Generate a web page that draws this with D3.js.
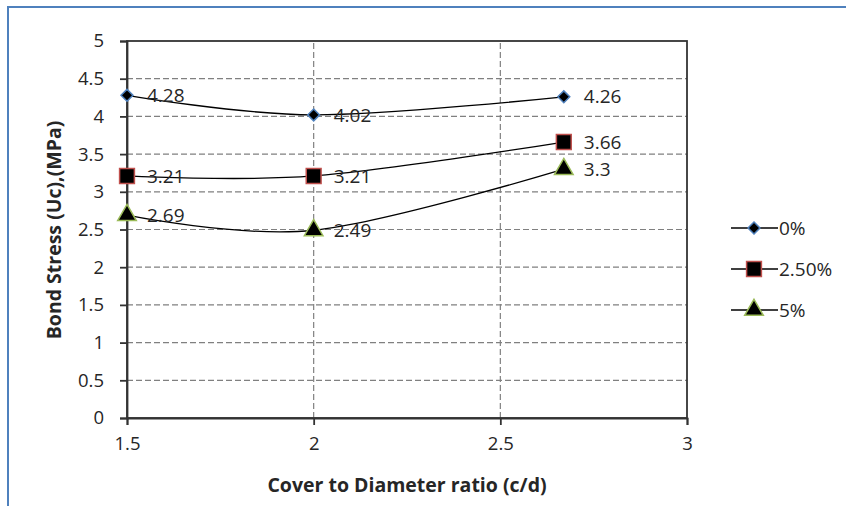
<!DOCTYPE html>
<html>
<head>
<meta charset="utf-8">
<script src="https://cdn.jsdelivr.net/npm/d3@7"></script>
<style>
  body { margin: 0; background: #fff; }
  text { font-family: "Open Sans", "Liberation Sans", sans-serif; fill: #262626; }
</style>
</head>
<body>
<svg id="chart" width="846" height="506"></svg>
<script>
// data
var ratios = [1.5, 2, 2.67];
var series = ["0%", "2.50%", "5%"];
var stress0 = [4.28, 4.02, 4.26];
var stress25 = [3.21, 3.21, 3.66];
var stress5 = [2.69, 2.49, 3.3];
var xTicks = [1.5, 2, 2.5, 3];
var yTicks = [0, 0.5, 1, 1.5, 2, 2.5, 3, 3.5, 4, 4.5, 5];

var svg = d3.select("#chart"),
    width = +svg.attr("width"),
    height = +svg.attr("height");

// outer frame (blue, top + left visible)
svg.append("line").attr("x1", 8).attr("x2", width).attr("y1", 7).attr("y2", 7)
    .attr("stroke", "#4f81bd").attr("stroke-width", 2);
svg.append("line").attr("x1", 8).attr("x2", 8).attr("y1", 6).attr("y2", height)
    .attr("stroke", "#4f81bd").attr("stroke-width", 2);

var x = d3.scaleLinear().domain([1.5, 3]).range([127, 687]);
var y = d3.scaleLinear().domain([0, 5]).range([418, 41]);

// grid
svg.append("g").selectAll("line").data(yTicks.filter(function(d) { return d > 0 && d < 5; }))
    .enter().append("line")
    .attr("x1", x(1.5)).attr("x2", x(3))
    .attr("y1", function(d) { return y(d); }).attr("y2", function(d) { return y(d); })
    .attr("stroke", "#808080").attr("stroke-width", 1.2).attr("stroke-dasharray", "6,3");
svg.append("g").selectAll("line").data([2, 2.5])
    .enter().append("line")
    .attr("y1", y(0)).attr("y2", y(5))
    .attr("x1", function(d) { return x(d); }).attr("x2", function(d) { return x(d); })
    .attr("stroke", "#808080").attr("stroke-width", 1.2).attr("stroke-dasharray", "6,3");

// plot box
svg.append("rect").attr("x", x(1.5)).attr("y", y(5))
    .attr("width", x(3) - x(1.5)).attr("height", y(0) - y(5))
    .attr("fill", "none").attr("stroke", "#333").attr("stroke-width", 1.8);

// axes
var yAxis = svg.append("g").attr("transform", "translate(" + x(1.5) + ",0)")
    .call(d3.axisLeft(y).tickValues(yTicks).tickSize(7).tickPadding(16)
        .tickFormat(function(d) { return d; }));
var xAxis = svg.append("g").attr("transform", "translate(0," + y(0) + ")")
    .call(d3.axisBottom(x).tickValues(xTicks).tickSize(7).tickPadding(12)
        .tickFormat(function(d) { return d; }));
[yAxis, xAxis].forEach(function(a) {
    a.select(".domain").attr("stroke", "#333").attr("stroke-width", 1.8);
    a.selectAll(".tick line").attr("stroke", "#333").attr("stroke-width", 1.8);
    a.selectAll("text").style("font-size", "18.5px").attr("fill", "#262626")
        .style("font-family", "'Open Sans', sans-serif");
});

// axis titles
svg.append("text").attr("x", 407).attr("y", 492).attr("text-anchor", "middle")
    .style("font-size", "19.5px").style("font-weight", "bold")
    .text("Cover to Diameter ratio (c/d)");
svg.append("text").attr("transform", "translate(61,230) rotate(-90)")
    .attr("text-anchor", "middle")
    .style("font-size", "19.5px").style("font-weight", "bold")
    .text("Bond Stress (Uc),(MPa)");

var data = [stress0, stress25, stress5];
var markerFill = "#000";
var markerStroke = ["#4f81bd", "#c0504d", "#9bbb59"];
var symbols = [
    d3.symbol().type(d3.symbolDiamond2).size(90),
    d3.symbol().type(d3.symbolSquare).size(220),
    d3.symbol().type(d3.symbolTriangle).size(150)
];

var line = d3.line()
    .x(function(d, i) { return x(ratios[i]); })
    .y(function(d) { return y(d); })
    .curve(d3.curveCardinal.tension(0));

data.forEach(function(vals, s) {
    svg.append("path").datum(vals).attr("d", line)
        .attr("fill", "none").attr("stroke", "#000").attr("stroke-width", 1.3);

    svg.append("g").selectAll("path").data(vals).enter().append("path")
        .attr("transform", function(d, i) {
            return "translate(" + x(ratios[i]) + "," + y(d) + ")";
        })
        .attr("d", symbols[s])
        .attr("fill", markerFill).attr("stroke", markerStroke[s]).attr("stroke-width", 1.5);

    svg.append("g").selectAll("text").data(vals).enter().append("text")
        .attr("x", function(d, i) { return x(ratios[i]) + 20; })
        .attr("y", function(d) { return y(d); })
        .attr("dy", "0.35em")
        .style("font-size", "19px")
        .text(function(d) { return d; });
});

// legend
var legend = svg.append("g");
series.forEach(function(name, s) {
    var ly = 228 + s * 41;
    legend.append("line").attr("x1", 731).attr("x2", 778)
        .attr("y1", ly).attr("y2", ly).attr("stroke", "#000").attr("stroke-width", 1.3);
    legend.append("path").attr("transform", "translate(754," + ly + ")")
        .attr("d", symbols[s])
        .attr("fill", markerFill).attr("stroke", markerStroke[s]).attr("stroke-width", 1.5);
    legend.append("text").attr("x", 779).attr("y", ly).attr("dy", "0.35em")
        .style("font-size", "19px").text(name);
});
</script>
</body>
</html>
